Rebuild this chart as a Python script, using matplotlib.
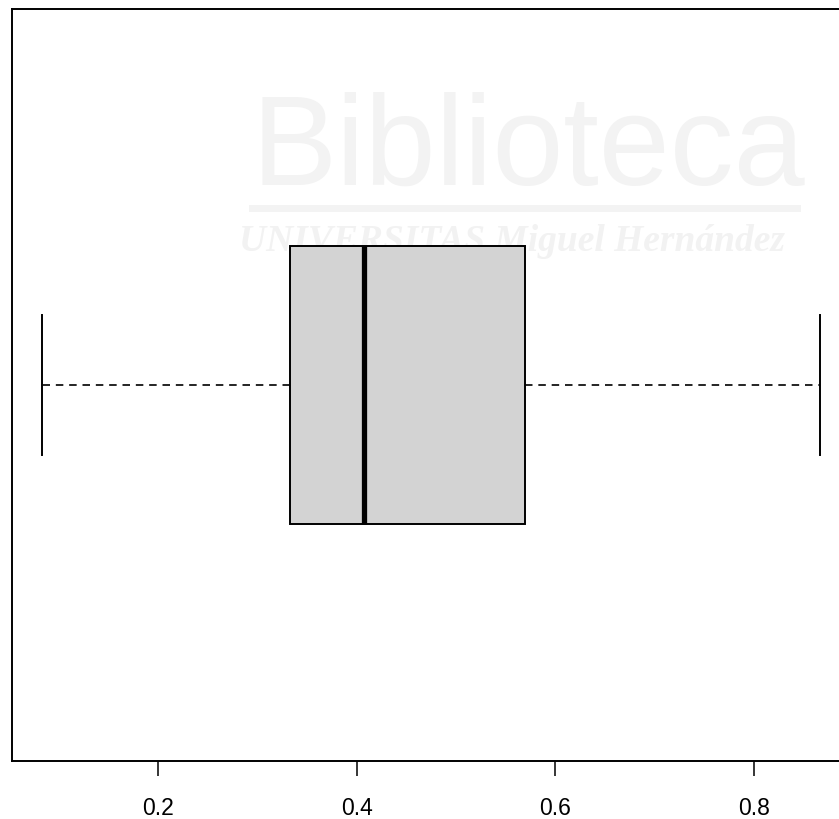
import matplotlib.pyplot as plt

# Resumen de cinco números del boxplot
whisker_lo = 0.083
q1 = 0.333
mediana = 0.407
q3 = 0.569
whisker_hi = 0.867

ticks = [0.2, 0.4, 0.6, 0.8]
tick_labels = ['0.2', '0.4', '0.6', '0.8']

plt.rcParams['font.family'] = ['Liberation Sans', 'DejaVu Sans']

fig = plt.figure(figsize=(8.39, 8.20), dpi=100)
ax = fig.add_axes([11.5 / 839, 58 / 820, 839.5 / 839, 752 / 820])
ax.set_zorder(2)

# Marca de agua de la biblioteca (queda por detrás del gráfico)
fig.text(0.63, 0.815, 'Biblioteca', fontsize=92, color='#f3f3f3',
         ha='center', va='center', zorder=0)
fig.add_artist(plt.Line2D([0.30, 0.95], [0.745, 0.745], color='#f3f3f3',
                          lw=5, zorder=0))
fig.text(0.61, 0.705, 'UNIVERSITAS Miguel Hernández', fontsize=27,
         color='#f2f2f2', ha='center', va='center', style='italic',
         fontweight='bold', family='Liberation Serif', zorder=0)

stats = [{
    'whislo': whisker_lo,
    'q1': q1,
    'med': mediana,
    'q3': q3,
    'whishi': whisker_hi,
    'fliers': [],
}]

ax.bxp(stats, positions=[1], widths=0.37, vert=False, patch_artist=True,
       capwidths=[0.186],
       boxprops=dict(facecolor='#d3d3d3', edgecolor='black', linewidth=1.4),
       medianprops=dict(color='black', linewidth=3.8, solid_capstyle='butt'),
       whiskerprops=dict(color='black', linewidth=1.2, linestyle=(0, (4.5, 3.5))),
       capprops=dict(color='black', linewidth=1.4))

ax.patch.set_alpha(0)
ax.set_xlim(0.0519, 0.8979)
ax.set_ylim(0.5, 1.5)
ax.set_yticks([])
ax.set_xticks(ticks)
ax.set_xticklabels(tick_labels, fontsize=16.5)
ax.tick_params(axis='x', length=11, width=1.1, pad=14)
for s in ax.spines.values():
    s.set_linewidth(1.4)

plt.savefig('out.png', dpi=100)
